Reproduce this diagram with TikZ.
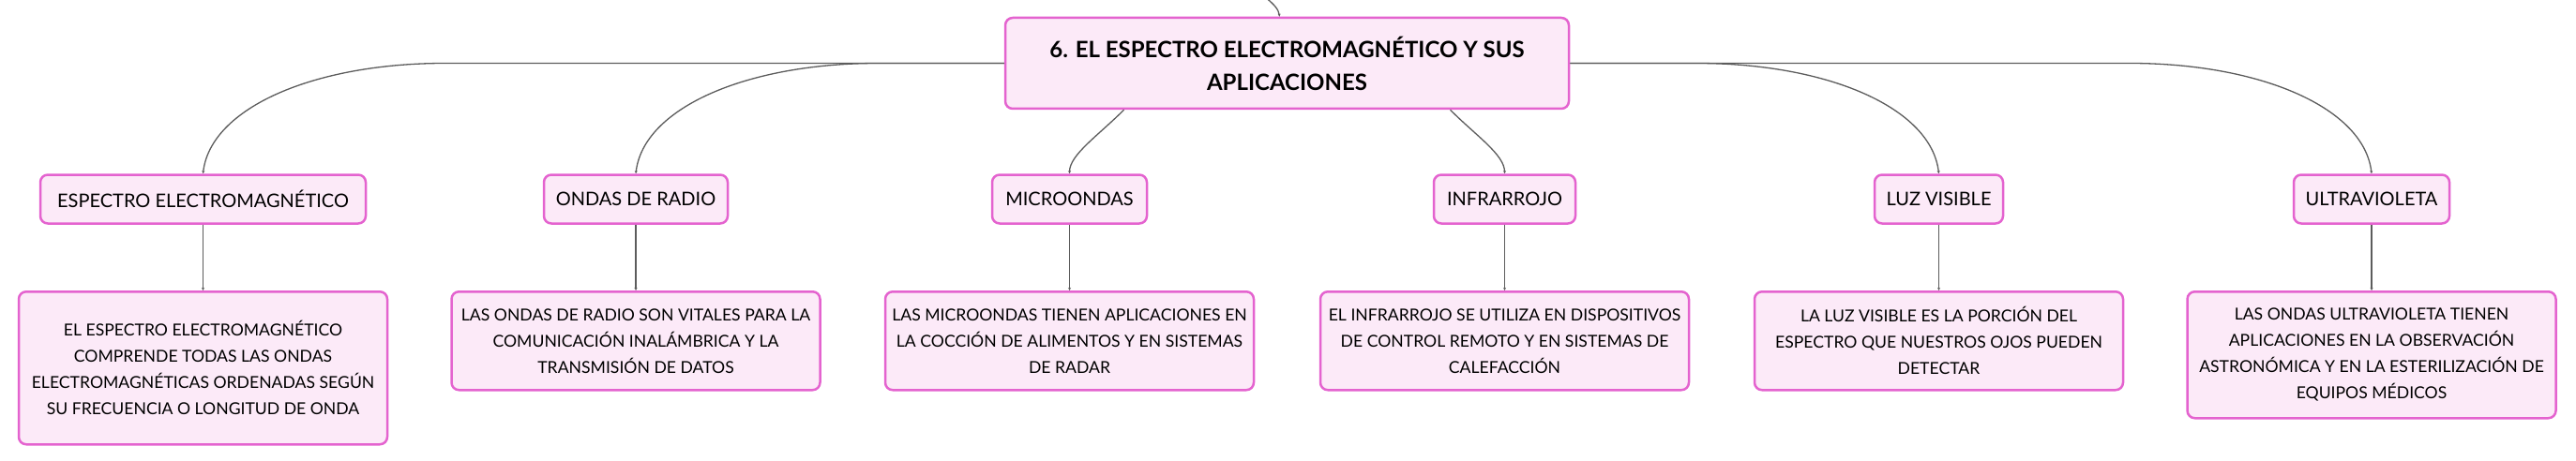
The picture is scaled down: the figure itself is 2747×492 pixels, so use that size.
\documentclass[tikz,border=0pt]{standalone}
\usepackage{fontspec}
\setmainfont{Lato}
\usetikzlibrary{arrows.meta,calc}
\definecolor{boxborder}{HTML}{E463CF}
\definecolor{boxfill}{HTML}{FCEAF8}
\definecolor{linkgray}{HTML}{5C5C5C}
\begin{document}
\begin{tikzpicture}[x=1pt, y=-1pt,
        mainbox/.style={draw=boxborder, fill=boxfill, line width=2.5pt, rounded corners=8pt, inner sep=0pt, align=center, minimum width=601pt, minimum height=97pt, font=\fontsize{24}{35}\selectfont\bfseries},
        topicbox/.style={draw=boxborder, fill=boxfill, line width=2.5pt, rounded corners=8pt, inner sep=0pt, minimum height=52pt, font=\fontsize{20}{24}\selectfont},
        infobox/.style={draw=boxborder, fill=boxfill, line width=2.5pt, rounded corners=8pt, inner sep=0pt, align=center, anchor=north, minimum width=393pt, font=\fontsize{17.6}{28}\selectfont},
        link/.style={draw=linkgray, line width=1.3pt, -{Stealth[length=3pt,width=3pt]}}]
        \useasboundingbox (0,0) rectangle (2747,492);

        % Nodes
        \node[mainbox] at (1372.5, 67.5) (title) {6. EL ESPECTRO ELECTROMAGNÉTICO Y SUS\\APLICACIONES};

        \node[topicbox, minimum width=347pt] at (216.5, 212.5) (espectro) {ESPECTRO ELECTROMAGNÉTICO};
        \node[topicbox, minimum width=196pt] at (678.0, 212.5) (radio) {ONDAS DE RADIO};
        \node[topicbox, minimum width=165pt] at (1140.5, 212.5) (micro) {MICROONDAS};
        \node[topicbox, minimum width=151pt] at (1604.5, 212.5) (infra) {INFRARROJO};
        \node[topicbox, minimum width=137pt] at (2067.5, 212.5) (luz) {LUZ VISIBLE};
        \node[topicbox, minimum width=166pt] at (2529.0, 212.5) (ultra) {ULTRAVIOLETA};

        \node[infobox, minimum height=163pt] at (216.5, 310) (espectroinfo) {EL ESPECTRO ELECTROMAGNÉTICO\\COMPRENDE TODAS LAS ONDAS\\ELECTROMAGNÉTICAS ORDENADAS SEGÚN\\SU FRECUENCIA O LONGITUD DE ONDA};
        \node[infobox, minimum height=105pt] at (678.0, 310) (radioinfo) {LAS ONDAS DE RADIO SON VITALES PARA LA\\COMUNICACIÓN INALÁMBRICA Y LA\\TRANSMISIÓN DE DATOS};
        \node[infobox, minimum height=105pt] at (1140.5, 310) (microinfo) {LAS MICROONDAS TIENEN APLICACIONES EN\\LA COCCIÓN DE ALIMENTOS Y EN SISTEMAS\\DE RADAR};
        \node[infobox, minimum height=105pt] at (1604.5, 310) (infrainfo) {EL INFRARROJO SE UTILIZA EN DISPOSITIVOS\\DE CONTROL REMOTO Y EN SISTEMAS DE\\CALEFACCIÓN};
        \node[infobox, minimum height=105pt] at (2067.5, 310) (luzinfo) {LA LUZ VISIBLE ES LA PORCIÓN DEL\\ESPECTRO QUE NUESTROS OJOS PUEDEN\\DETECTAR};
        \node[infobox, minimum height=135pt] at (2529.0, 310) (ultrainfo) {LAS ONDAS ULTRAVIOLETA TIENEN\\APLICACIONES EN LA OBSERVACIÓN\\ASTRONÓMICA Y EN LA ESTERILIZACIÓN DE\\EQUIPOS MÉDICOS};

        \coordinate (parent) at (1348, -4);

        % Links
        \draw[link]  (parent) .. controls +(10,8) and +(-1,-8) .. ([xshift=-8pt]title.north);

        \draw[link]  (title.west) -- ($(espectro.north |- title.west)+(258,0)$) .. controls +(-140,0) and +(8,-70) .. (espectro.north);
        \draw[link]  (title.west) -- ($(radio.north |- title.west)+(258,0)$) .. controls +(-140,0) and +(8,-70) .. (radio.north);
        \draw[link]  ([xshift=-174pt]title.south) .. controls +(-28,28) and +(0,-20) .. (micro.north);
        \draw[link]  ([xshift=174pt]title.south) .. controls +(28,28) and +(0,-20) .. (infra.north);
        \draw[link]  (title.east) -- ($(luz.north |- title.east)+(-258,0)$) .. controls +(140,0) and +(-8,-70) .. (luz.north);
        \draw[link]  (title.east) -- ($(ultra.north |- title.east)+(-258,0)$) .. controls +(140,0) and +(-8,-70) .. (ultra.north);

        \draw[link]  (espectro) -- (espectroinfo);
        \draw[link]  (radio) -- (radioinfo);
        \draw[link]  (micro) -- (microinfo);
        \draw[link]  (infra) -- (infrainfo);
        \draw[link]  (luz) -- (luzinfo);
        \draw[link]  (ultra) -- (ultrainfo);
    \end{tikzpicture}
\end{document}
